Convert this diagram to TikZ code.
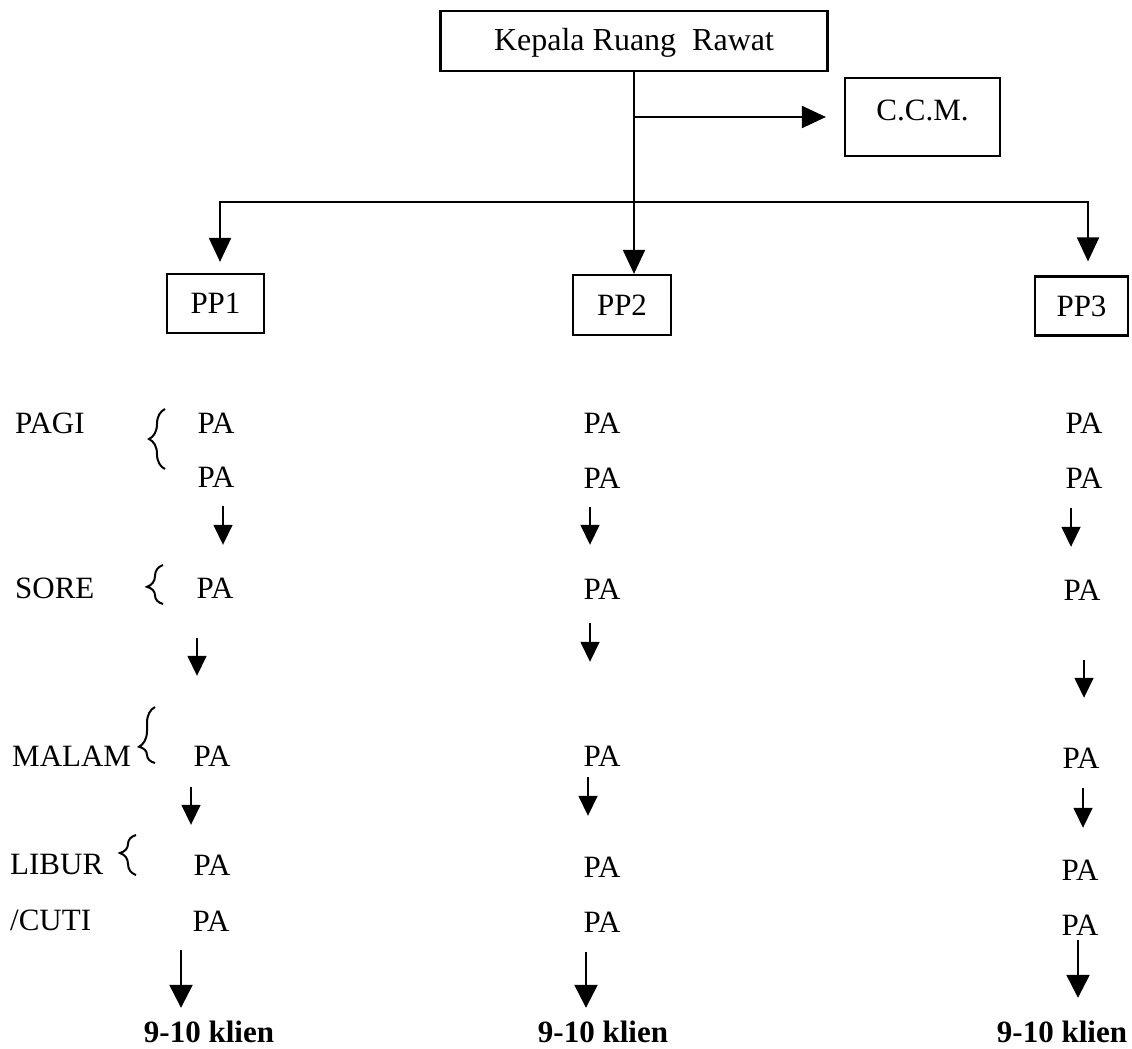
\documentclass[tikz,border=0pt]{standalone}
\usepackage{fontspec}
\setmainfont{Liberation Serif}
\usetikzlibrary{arrows.meta, decorations.pathreplacing}

\begin{document}
\begin{tikzpicture}[x=1pt, y=-1pt,
    box/.style={draw, line width=2.2pt, inner sep=0pt, text height=20pt, text depth=0pt,
                font=\fontsize{31}{36}\selectfont},
    txt/.style={inner sep=0pt, text height=20pt, text depth=0pt, font=\fontsize{31}{36}\selectfont},
    klien/.style={txt, font=\fontsize{31}{36}\selectfont\bfseries},
    arr/.style={line width=2pt, -{Triangle[length=24pt,width=22pt]}},
    sarr/.style={line width=1.6pt, -{Triangle[length=20pt,width=19pt]}},
    barr/.style={line width=2.4pt, -{Triangle[length=23pt,width=23pt]}},
    brc/.style={line width=2pt, decorate, decoration={brace, amplitude=16pt, aspect=#1}},
    brc/.default=0.5]
\useasboundingbox (0,0) rectangle (1132,1049);

% kepala ruang, ccm dan ketua tim
\node[box, minimum width=387pt, minimum height=60pt, font=\fontsize{32}{38}\selectfont] (kru) at (634,41) {Kepala Ruang\ \ Rawat};
\node[box, minimum width=155pt, minimum height=78pt, text depth=14pt] (ccm) at (922.5,117) {C.C.M.};
\node[box, minimum width=97pt, minimum height=59pt] (pp1) at (215.5,303.5) {PP1};
\node[box, minimum width=98pt, minimum height=60pt] (pp2) at (622,305) {PP2};
\node[box, minimum width=93pt, minimum height=59pt] (pp3) at (1081.5,306) {PP3};
\coordinate (bar) at (634,202);

\draw[arr] (kru.south) -- (kru.south |- pp2.north);
\draw[arr, shorten >=18pt] (kru.south |- ccm.west) -- (ccm.west);
\draw[arr, shorten >=11pt] (bar) -| ([xshift=4.5pt]pp1.north);
\draw[arr, shorten >=14pt] (bar) -| ([xshift=6.5pt]pp3.north);

% shift
\node[txt, anchor=west] (pagi) at (15,423) {PAGI};
\node[txt, anchor=west] (sore) at (15,588) {SORE};
\node[txt, anchor=west] (malam) at (12,756) {MALAM};
\node[txt, anchor=west] (libur) at (10,864) {LIBUR};
\node[txt, anchor=west] (cuti) at (10,920) {/CUTI};
\draw[brc] (165,469) -- (165,409);
\draw[brc=0.44] (163,604) -- (163,565);
\draw[brc=0.29] (155,763) -- (155,707);
\draw[brc=0.55] (136,875) -- (136,835);

% tim 1
\node[txt] (p1a) at (216,423) {PA};
\node[txt] (p1b) at (216,477) {PA};
\node[txt] (p1c) at (215,588) {PA};
\node[txt] (p1d) at (212,756) {PA};
\node[txt] (p1e) at (212,865) {PA};
\node[txt] (p1f) at (211,921) {PA};
\node[klien] (k1) at (209,1032) {9-10 klien};
\draw[sarr, shorten <=19pt, shorten >=33pt] ([xshift=7pt]p1b.south) -- ([xshift=7pt]p1b.south |- p1c.north);
\draw[sarr, shorten <=40pt, shorten >=70pt] ([xshift=-18pt]p1c.south) -- ([xshift=-18pt]p1c.south |- p1d.north);
\draw[sarr, shorten <=21pt, shorten >=30pt] ([xshift=-21pt]p1d.south) -- ([xshift=-21pt]p1d.south |- p1e.north);
\draw[barr, shorten <=19pt, shorten >=14pt] ([xshift=-30pt]p1f.south) -- ([xshift=-30pt]p1f.south |- k1.north);

% tim 2
\node[txt] (p2a) at (602,423) {PA};
\node[txt] (p2b) at (602,478) {PA};
\node[txt] (p2c) at (602,589) {PA};
\node[txt] (p2d) at (602,756) {PA};
\node[txt] (p2e) at (602,867) {PA};
\node[txt] (p2f) at (602,922) {PA};
\node[klien] (k2) at (603,1032) {9-10 klien};
\draw[sarr, shorten <=19pt, shorten >=34pt] ([xshift=-12pt]p2b.south) -- ([xshift=-12pt]p2b.south |- p2c.north);
\draw[sarr, shorten <=24pt, shorten >=84pt] ([xshift=-12pt]p2c.south) -- ([xshift=-12pt]p2c.south |- p2d.north);
\draw[sarr, shorten <=11pt, shorten >=41pt] ([xshift=-14pt]p2d.south) -- ([xshift=-14pt]p2d.south |- p2e.north);
\draw[barr, shorten <=20pt, shorten >=14pt] ([xshift=-16pt]p2f.south) -- ([xshift=-16pt]p2f.south |- k2.north);

% tim 3
\node[txt] (p3a) at (1084,423) {PA};
\node[txt] (p3b) at (1084,478) {PA};
\node[txt] (p3c) at (1082,590) {PA};
\node[txt] (p3d) at (1081,758) {PA};
\node[txt] (p3e) at (1080,870) {PA};
\node[txt] (p3f) at (1080,925) {PA};
\node[klien] (k3) at (1062,1032) {9-10 klien};
\draw[sarr, shorten <=20pt, shorten >=33pt] ([xshift=-13pt]p3b.south) -- ([xshift=-13pt]p3b.south |- p3c.north);
\draw[sarr, shorten <=60pt, shorten >=50pt] ([xshift=2pt]p3c.south) -- ([xshift=2pt]p3c.south |- p3d.north);
\draw[sarr, shorten <=20pt, shorten >=32pt] ([xshift=2pt]p3d.south) -- ([xshift=2pt]p3d.south |- p3e.north);
\draw[barr, shorten <=5pt, shorten >=24pt] ([xshift=-2pt]p3f.south) -- ([xshift=-2pt]p3f.south |- k3.north);
\end{tikzpicture}
\end{document}
